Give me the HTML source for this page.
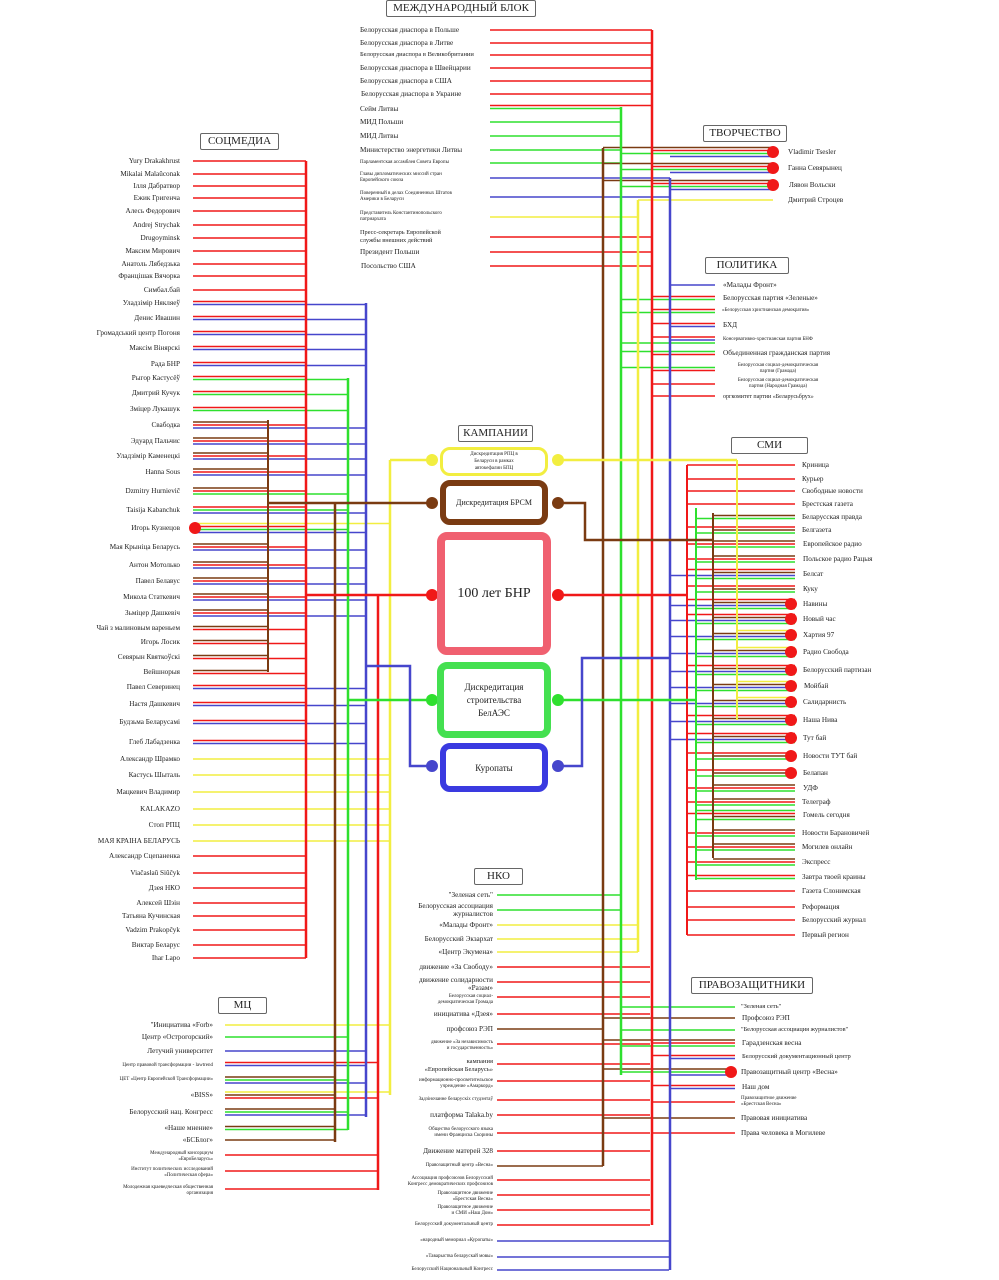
<!DOCTYPE html>
<html><head><meta charset="utf-8">
<style>
body{margin:0;width:999px;height:1280px;background:#fff;overflow:hidden;position:relative;font-family:"Liberation Serif","DejaVu Serif",serif;color:#222}
svg{position:absolute;left:0;top:0}
.t{position:absolute;font-size:7.2px;white-space:nowrap;line-height:8px}
.r{text-align:right}
.s{font-size:5px;line-height:6px}
.h{position:absolute;border:1px solid #666;border-radius:2px;background:#fff;font-size:11px;text-align:center;line-height:15px;white-space:nowrap}
.box{position:absolute;background:#fff;border-radius:10px;display:flex;align-items:center;justify-content:center;text-align:center;font-size:8px;line-height:12px}
</style></head><body>
<svg id="g" width="999" height="1280"></svg>

<div class="h" style="left:386px;top:0;width:148px">МЕЖДУНАРОДНЫЙ БЛОК</div>
<div class="h" style="left:200px;top:133px;width:77px">СОЦМЕДИА</div>
<div class="h" style="left:703px;top:125px;width:82px">ТВОРЧЕСТВО</div>
<div class="h" style="left:705px;top:257px;width:82px">ПОЛИТИКА</div>
<div class="h" style="left:731px;top:437px;width:75px">СМИ</div>
<div class="h" style="left:458px;top:425px;width:73px">КАМПАНИИ</div>
<div class="h" style="left:474px;top:868px;width:47px">НКО</div>
<div class="h" style="left:218px;top:997px;width:47px">МЦ</div>
<div class="h" style="left:691px;top:977px;width:120px">ПРАВОЗАЩИТНИКИ</div>

<!-- campaigns -->
<div class="box" style="left:440px;top:447px;width:108px;height:29px;border:3px solid #f2ee40;box-sizing:border-box;font-size:5px;line-height:7px">Дискредитация РПЦ в<br>Беларуси в рамках<br>автокефалии БПЦ</div>
<div class="box" style="left:440px;top:480px;width:108px;height:45px;border:6px solid #7a3b12;box-sizing:border-box">Дискредитация БРСМ</div>
<div class="box" style="left:437px;top:532px;width:114px;height:123px;border:8px solid #f06070;box-sizing:border-box;font-size:14px">100 лет БНР</div>
<div class="box" style="left:437px;top:662px;width:114px;height:76px;border:7px solid #44e050;box-sizing:border-box;font-size:9px;line-height:13px">Дискредитация<br>строительства<br>БелАЭС</div>
<div class="box" style="left:440px;top:743px;width:108px;height:49px;border:6px solid #3a3ae0;box-sizing:border-box;font-size:9px">Куропаты</div>

<!-- international -->
<div class="t" style="left:360px;top:30px">Белорусская диаспора в Польше</div>
<div class="t" style="left:360px;top:43px">Белорусская диаспора в Литве</div>
<div class="t" style="left:360px;top:55px;font-size:6.5px">Белорусская диаспора в Великобритании</div>
<div class="t" style="left:360px;top:68px">Белорусская диаспора в Швейцарии</div>
<div class="t" style="left:360px;top:81px">Белорусская диаспора в США</div>
<div class="t" style="left:361px;top:94px">Белорусская диаспора в Украине</div>
<div class="t" style="left:360px;top:109px">Сейм Литвы</div>
<div class="t" style="left:360px;top:122px">МИД Польши</div>
<div class="t" style="left:360px;top:136px">МИД Литвы</div>
<div class="t" style="left:360px;top:150px">Министерство энергетики Литвы</div>
<div class="t s" style="left:360px;top:163px">Парламентская ассамблея Совета Европы</div>
<div class="t s" style="left:360px;top:178px">Главы дипломатических миссий стран<br>Европейского союза</div>
<div class="t s" style="left:360px;top:197px">Поверенный в делах Соединенных Штатов<br>Америки в Беларуси</div>
<div class="t s" style="left:360px;top:217px">Представитель Константинопольского<br>патриархата</div>
<div class="t" style="left:360px;top:237px;font-size:6.3px">Пресс-секретарь Европейской<br>службы внешних действий</div>
<div class="t" style="left:360px;top:252px">Президент Польши</div>
<div class="t" style="left:361px;top:266px">Посольство США</div>

<!-- socmedia -->
<div class="t r" style="right:819px;top:161px">Yury Drakakhrust</div>
<div class="t r" style="right:819px;top:174px">Mikalai Malaŭconak</div>
<div class="t r" style="right:819px;top:186px">Ілля Дабратвор</div>
<div class="t r" style="right:819px;top:198px">Ежик Григенча</div>
<div class="t r" style="right:819px;top:211px">Алесь Федорович</div>
<div class="t r" style="right:819px;top:225px">Andrej Strychak</div>
<div class="t r" style="right:819px;top:238px">Drugoyminsk</div>
<div class="t r" style="right:819px;top:251px">Максим Мирович</div>
<div class="t r" style="right:819px;top:264px">Анатоль Лябедзька</div>
<div class="t r" style="right:819px;top:276px">Францішак Вячорка</div>
<div class="t r" style="right:819px;top:290px">Симбал.бай</div>
<div class="t r" style="right:819px;top:303px">Уладзімір Някляеў</div>
<div class="t r" style="right:819px;top:318px">Денис Ивашин</div>
<div class="t r" style="right:819px;top:333px">Громадський центр Погоня</div>
<div class="t r" style="right:819px;top:348px">Максім Вінярскі</div>
<div class="t r" style="right:819px;top:364px">Рада БНР</div>
<div class="t r" style="right:819px;top:378px">Рыгор Кастусёў</div>
<div class="t r" style="right:819px;top:393px">Дмитрий Кучук</div>
<div class="t r" style="right:819px;top:409px">Зміцер Лукашук</div>
<div class="t r" style="right:819px;top:425px">Свабодка</div>
<div class="t r" style="right:819px;top:441px">Эдуард Пальчис</div>
<div class="t r" style="right:819px;top:456px">Уладзімір Каменецкі</div>
<div class="t r" style="right:819px;top:472px">Hanna Sous</div>
<div class="t r" style="right:819px;top:491px">Dzmitry Hurnievič</div>
<div class="t r" style="right:819px;top:510px">Taisija Kabanchuk</div>
<div class="t r" style="right:819px;top:528px">Игорь Кузнецов</div>
<div class="t r" style="right:819px;top:547px">Мая Крыніца Беларусь</div>
<div class="t r" style="right:819px;top:565px">Антон Мотолько</div>
<div class="t r" style="right:819px;top:581px">Павел Белавус</div>
<div class="t r" style="right:819px;top:597px">Микола Статкевич</div>
<div class="t r" style="right:819px;top:613px">Зьміцер Дашкевіч</div>
<div class="t r" style="right:819px;top:628px">Чай з малиновым вареньем</div>
<div class="t r" style="right:819px;top:642px">Игорь Лосик</div>
<div class="t r" style="right:819px;top:657px">Севярын Квяткоўскі</div>
<div class="t r" style="right:819px;top:672px">Вейшнорыя</div>
<div class="t r" style="right:819px;top:687px">Павел Северинец</div>
<div class="t r" style="right:819px;top:704px">Настя Дашкевич</div>
<div class="t r" style="right:819px;top:722px">Будзьма Беларусамі</div>
<div class="t r" style="right:819px;top:742px">Глеб Лабадзенка</div>
<div class="t r" style="right:819px;top:759px">Александр Шрамко</div>
<div class="t r" style="right:819px;top:775px">Кастусь Шыталь</div>
<div class="t r" style="right:819px;top:792px">Мацкевич Владимир</div>
<div class="t r" style="right:819px;top:809px">KALAKAZO</div>
<div class="t r" style="right:819px;top:825px">Стоп РПЦ</div>
<div class="t r" style="right:819px;top:841px">МАЯ КРАІНА БЕЛАРУСЬ</div>
<div class="t r" style="right:819px;top:856px">Александр Сцепаненка</div>
<div class="t r" style="right:819px;top:873px">Viačasłaŭ Siŭčyk</div>
<div class="t r" style="right:819px;top:888px">Дзея НКО</div>
<div class="t r" style="right:819px;top:903px">Алексей Шэін</div>
<div class="t r" style="right:819px;top:916px">Татьяна Кучинская</div>
<div class="t r" style="right:819px;top:930px">Vadzim Prakopčyk</div>
<div class="t r" style="right:819px;top:945px">Виктар Беларус</div>
<div class="t r" style="right:819px;top:958px">Ihar Lapo</div>

<!-- MC -->
<div class="t r" style="right:786px;top:1025px">"Инициатива «Forb»</div>
<div class="t r" style="right:786px;top:1037px">Центр «Острогорский»</div>
<div class="t r" style="right:786px;top:1051px">Летучий университет</div>
<div class="t r s" style="right:786px;top:1066px">Центр правовой трансформации - lawtrend</div>
<div class="t r s" style="right:786px;top:1080px">ЦЕТ «Центр Европейской Трансформации»</div>
<div class="t r" style="right:786px;top:1095px">«BISS»</div>
<div class="t r" style="right:786px;top:1112px">Белорусский нац. Конгресс</div>
<div class="t r" style="right:786px;top:1128px">«Наше мнение»</div>
<div class="t r" style="right:786px;top:1140px">«БСБлог»</div>
<div class="t r s" style="right:786px;top:1157px">Международный консорциум<br>«ЕвроБеларусь»</div>
<div class="t r s" style="right:786px;top:1173px">Институт политических исследований<br>«Политическая сфера»</div>
<div class="t r s" style="right:786px;top:1191px">Молодежная краеведческая общественная<br>организация</div>

<!-- NKO -->
<div class="t r" style="right:506px;top:895px">"Зеленая сеть"</div>
<div class="t r" style="right:506px;top:910px">Белорусская ассоциация<br>журналистов</div>
<div class="t r" style="right:506px;top:925px">«Малады Фронт»</div>
<div class="t r" style="right:506px;top:939px">Белорусский Экзархат</div>
<div class="t r" style="right:506px;top:952px">«Центр Экумена»</div>
<div class="t r" style="right:506px;top:967px">движение «За Свободу»</div>
<div class="t r" style="right:506px;top:984px">движение солидарности<br>«Разам»</div>
<div class="t r s" style="right:506px;top:1000px">Белорусская социал-<br>демократическая Громада</div>
<div class="t r" style="right:506px;top:1014px">инициатива «Дзея»</div>
<div class="t r" style="right:506px;top:1029px">профсоюз РЭП</div>
<div class="t r s" style="right:506px;top:1046px">движение «За независимость<br>и государственность»</div>
<div class="t r" style="right:506px;top:1066px;font-size:6.5px">кампания<br>«Европейская Беларусь»</div>
<div class="t r s" style="right:506px;top:1084px">информационно-просветительское<br>учреждение «Амаркорд»</div>
<div class="t r s" style="right:506px;top:1100px">Задзіночанне беларускіх студэнтаў</div>
<div class="t r" style="right:506px;top:1115px">платформа Talaka.by</div>
<div class="t r s" style="right:506px;top:1133px">Общество белорусского языка<br>имени Франциска Скорины</div>
<div class="t r" style="right:506px;top:1151px">Движение матерей 328</div>
<div class="t r s" style="right:506px;top:1166px">Правозащитный центр «Весна»</div>
<div class="t r s" style="right:506px;top:1182px">Ассоциация профсоюзов Белорусский<br>Конгресс демократических профсоюзов</div>
<div class="t r s" style="right:506px;top:1197px">Правозащитное движение<br>«Брестская Весна»</div>
<div class="t r s" style="right:506px;top:1211px">Правозащитное движение<br>и СМИ «Наш Дом»</div>
<div class="t r s" style="right:506px;top:1225px">Белорусский документальный центр</div>
<div class="t r s" style="right:506px;top:1241px">«народный мемориал «Куропаты»</div>
<div class="t r s" style="right:506px;top:1257px">«Таварыства беларускай мовы»</div>
<div class="t r s" style="right:506px;top:1270px">Белорусский Национальный Конгресс</div>

<!-- tvorchestvo -->
<div class="t" style="left:788px;top:152px">Vladimir Tsesler</div>
<div class="t" style="left:788px;top:168px">Ганна Севярынец</div>
<div class="t" style="left:789px;top:185px">Лявон Вольски</div>
<div class="t" style="left:788px;top:200px">Дмитрий Строцев</div>

<!-- politika -->
<div class="t" style="left:723px;top:285px">«Малады Фронт»</div>
<div class="t" style="left:723px;top:298px">Белорусская партия «Зеленые»</div>
<div class="t s" style="left:722px;top:311px">«Белорусская христианская демократия»</div>
<div class="t" style="left:723px;top:325px">БХД</div>
<div class="t s" style="left:723px;top:340px">Консервативно-христианская партия БНФ</div>
<div class="t" style="left:723px;top:353px">Объединенная гражданская партия</div>
<div class="t s" style="left:723px;top:369px;width:110px;text-align:center">Белорусская социал-демократическая<br>партия (Грамада)</div>
<div class="t s" style="left:723px;top:384px;width:110px;text-align:center">Белорусская социал-демократическая<br>партия (Народная Грамада)</div>
<div class="t s" style="left:723px;top:397px;font-size:6px">оргкомитет партии «Беларусьбрух»</div>

<!-- SMI -->
<div class="t" style="left:802px;top:465px">Криница</div>
<div class="t" style="left:802px;top:479px">Курьер</div>
<div class="t" style="left:802px;top:491px">Свободные новости</div>
<div class="t" style="left:802px;top:504px">Брестская газета</div>
<div class="t" style="left:802px;top:517px">Беларусская правда</div>
<div class="t" style="left:802px;top:530px">Белгазета</div>
<div class="t" style="left:803px;top:544px">Европейское радио</div>
<div class="t" style="left:803px;top:559px">Польское радио Рацыя</div>
<div class="t" style="left:803px;top:574px">Белсат</div>
<div class="t" style="left:803px;top:589px">Куку</div>
<div class="t" style="left:803px;top:604px">Навины</div>
<div class="t" style="left:803px;top:619px">Новый час</div>
<div class="t" style="left:803px;top:635px">Хартия 97</div>
<div class="t" style="left:803px;top:652px">Радио Свобода</div>
<div class="t" style="left:803px;top:670px">Белорусский партизан</div>
<div class="t" style="left:804px;top:686px">Мойбай</div>
<div class="t" style="left:803px;top:702px">Салидарнисть</div>
<div class="t" style="left:803px;top:720px">Наша Нива</div>
<div class="t" style="left:803px;top:738px">Тут бай</div>
<div class="t" style="left:803px;top:756px">Новости ТУТ бай</div>
<div class="t" style="left:803px;top:773px">Белапан</div>
<div class="t" style="left:803px;top:788px">УДФ</div>
<div class="t" style="left:802px;top:802px">Телеграф</div>
<div class="t" style="left:803px;top:815px">Гомель сегодня</div>
<div class="t" style="left:802px;top:833px">Новости Барановичей</div>
<div class="t" style="left:802px;top:847px">Могилев онлайн</div>
<div class="t" style="left:802px;top:862px">Экспресс</div>
<div class="t" style="left:802px;top:877px">Завтра твоей краины</div>
<div class="t" style="left:802px;top:891px">Газета Слонимская</div>
<div class="t" style="left:802px;top:907px">Реформация</div>
<div class="t" style="left:802px;top:920px">Белорусский журнал</div>
<div class="t" style="left:802px;top:935px">Первый регион</div>

<!-- pravozashchitniki -->
<div class="t" style="left:741px;top:1007px;font-size:6.5px">"Зеленая сеть"</div>
<div class="t" style="left:742px;top:1018px">Профсоюз РЭП</div>
<div class="t" style="left:741px;top:1030px;font-size:6.3px">"Белорусская ассоциация журналистов"</div>
<div class="t" style="left:742px;top:1043px">Гарадзенская весна</div>
<div class="t" style="left:742px;top:1057px;font-size:6.5px">Белорусский документационный центр</div>
<div class="t" style="left:741px;top:1072px">Правозащитный центр «Весна»</div>
<div class="t" style="left:742px;top:1087px">Наш дом</div>
<div class="t s" style="left:741px;top:1102px">Правозащитное движение<br>«Брестская Весна»</div>
<div class="t" style="left:741px;top:1118px">Правовая инициатива</div>
<div class="t" style="left:741px;top:1133px">Права человека в Могилеве</div>

<script>
document.querySelectorAll(".t").forEach(function(e){e.style.transform="translateY(-"+(e.offsetHeight/2)+"px)";});
var C={r:"#f01818",g:"#2ee02e",b:"#4646cc",n:"#7a3b12",y:"#f2ee40"};
var s="";
function ln(x1,y1,x2,y2,c,w){s+='<line x1="'+x1+'" y1="'+y1+'" x2="'+x2+'" y2="'+y2+'" stroke="'+C[c]+'" stroke-width="'+(w||1.5)+'"/>';}
function pl(p,c,w){s+='<polyline points="'+p+'" fill="none" stroke="'+C[c]+'" stroke-width="'+(w||2.5)+'"/>';}
function dot(x,y,c,r){s+='<circle cx="'+x+'" cy="'+y+'" r="'+(r||6)+'" fill="'+(C[c]||c)+'"/>';}
function B(list,x1,dest,left){list.forEach(function(it){var y=it[0],cs=it[1],n=cs.length;for(var i=0;i<n;i++){var yy=y+i*3-(n-1)*1.5;var d=dest[cs[i]];ln(left?x1:d,yy,left?d:x1,yy,cs[i]);}});}
var S=[[161,"r"],[174,"r"],[186,"r"],[198,"r"],[211,"r"],[225,"r"],[238,"r"],[251,"r"],[264,"r"],[276,"r"],[290,"r"],[303,"rb"],[318,"rb"],[333,"rb"],[348,"rb"],[364,"rb"],[378,"rg"],[393,"rg"],[409,"rg"],[425,"nrb"],[441,"nrb"],[456,"nrb"],[472,"nrb"],[491,"nrg"],[510,"rgb"],[528,"yrgb"],[547,"nrb"],[565,"nrb"],[581,"nrb"],[597,"nrb"],[613,"nrb"],[628,"nr"],[642,"nr"],[657,"nr"],[672,"nr"],[687,"rb"],[704,"rb"],[722,"rb"],[742,"rb"],[759,"y"],[775,"y"],[792,"y"],[809,"y"],[825,"y"],[841,"y"],[856,"r"],[873,"r"],[888,"r"],[903,"r"],[916,"r"],[930,"r"],[945,"r"],[958,"r"]];
B(S,193,{r:306,b:366,g:348,n:268,y:390},true);
var M=[[1025,"y"],[1037,"g"],[1051,"b"],[1064,"rb"],[1080,"ngb"],[1095,"ynr"],[1112,"ngb"],[1128,"ng"],[1140,"n"],[1155,"r"],[1171,"r"],[1189,"r"]];
B(M,225,{r:378,g:348,b:366,n:335,y:390},true);
var I=[[30,"r"],[43,"r"],[55,"r"],[68,"r"],[81,"r"],[94,"r"],[107,"rg"],[122,"g"],[136,"g"],[150,"g"],[163,"g"],[178,"b"],[197,"b"],[217,"y"],[237,"r"],[252,"r"],[266,"r"]];
B(I,490,{r:652,g:621,b:670,y:638,n:603},true);
var N=[[895,"g"],[910,"g"],[925,"y"],[939,"y"],[952,"y"],[967,"r"],[982,"r"],[997,"r"],[1014,"r"],[1029,"n"],[1044,"r"],[1064,"r"],[1081,"r"],[1100,"r"],[1115,"r"],[1133,"r"],[1151,"r"],[1166,"n"],[1180,"r"],[1195,"r"],[1210,"r"],[1225,"r"],[1241,"b"],[1257,"b"],[1270,"b"]];
B(N,497,{r:650,g:621,b:669,y:638,n:603},true);
var X={r:652,g:621,b:670,y:638,n:603};
B([[152,"nrgb"],[168,"nrgb"],[185,"nrgb"],[200,"y"]],773,X,false);
B([[285,"b"],[298,"rg"],[311,"rg"],[325,"rb"],[340,"rbg"],[353,"gr"],[369,"gr"],[384,"r"],[396,"r"]],715,X,false);
var SM=[[465,"r"],[479,"r"],[491,"r"],[504,"r"],[517,"ng"],[530,"rng"],[544,"nrg"],[559,"nrg"],[574,"rnbg"],[589,"rng"],[604,"rnbg"],[619,"rnbg"],[635,"ynbg"],[652,"ynbg"],[670,"rnbg"],[686,"ynbg"],[702,"ynbg"],[720,"rnbg"],[738,"rnbg"],[756,"rng"],[773,"rng"],[788,"nrg"],[802,"nrg"],[815,"grng"],[833,"nrg"],[847,"nrg"],[862,"nrg"],[877,"rg"],[891,"r"],[907,"r"],[920,"r"],[935,"r"]];
B(SM,795,{r:687,g:696,n:713,b:670,y:737},false);
B([[1007,"g"],[1018,"n"],[1030,"g"],[1043,"nrg"],[1057,"rb"],[1072,"ngb"],[1087,"rb"],[1102,"r"],[1118,"n"],[1133,"r"]],735,{r:652,g:621,b:670,n:603,y:638},false);
ln(306,161,306,958,"r",2.5);ln(366,303,366,1117,"b",2.5);ln(348,378,348,1130,"g",2.5);
ln(268,420,268,672,"n",2);ln(335,503,335,1142,"n",2.5);ln(378,595,378,1190,"r",2.5);ln(390,460,390,1095,"y",2.5);
ln(652,30,652,1225,"r",2.5);ln(621,107,621,1075,"g",2.5);ln(603,148,603,1166,"n",2.5);ln(638,200,638,952,"y",2.5);ln(670,178,670,1270,"b",2.5);
ln(687,465,687,935,"r",2);ln(696,508,696,880,"g",2);ln(713,513,713,858,"n",2);ln(737,460,737,720,"y",2);
pl("390,460 432,460","y");pl("268,503 432,503","n");pl("306,595 432,595","r");pl("348,700 432,700","g");pl("366,666 410,666 410,766 432,766","b");
pl("558,460 737,460","y");pl("558,503 585,503 585,540 713,540","n");pl("558,595 687,595","r");pl("558,700 696,700","g");pl("558,766 582,766 582,658 670,658","b");
dot(432,460,"y");dot(558,460,"y");dot(432,503,"n");dot(558,503,"n");dot(432,595,"r");dot(558,595,"r");dot(432,700,"g");dot(558,700,"g");dot(432,766,"b");dot(558,766,"b");
dot(195,528,"r");[152,168,185].forEach(function(y){dot(773,y,"r");});
[604,619,635,652,670,686,702,720,738,756,773].forEach(function(y){dot(791,y,"r");});
dot(731,1072,"r");
document.getElementById("g").innerHTML=s;
</script>
</body></html>
